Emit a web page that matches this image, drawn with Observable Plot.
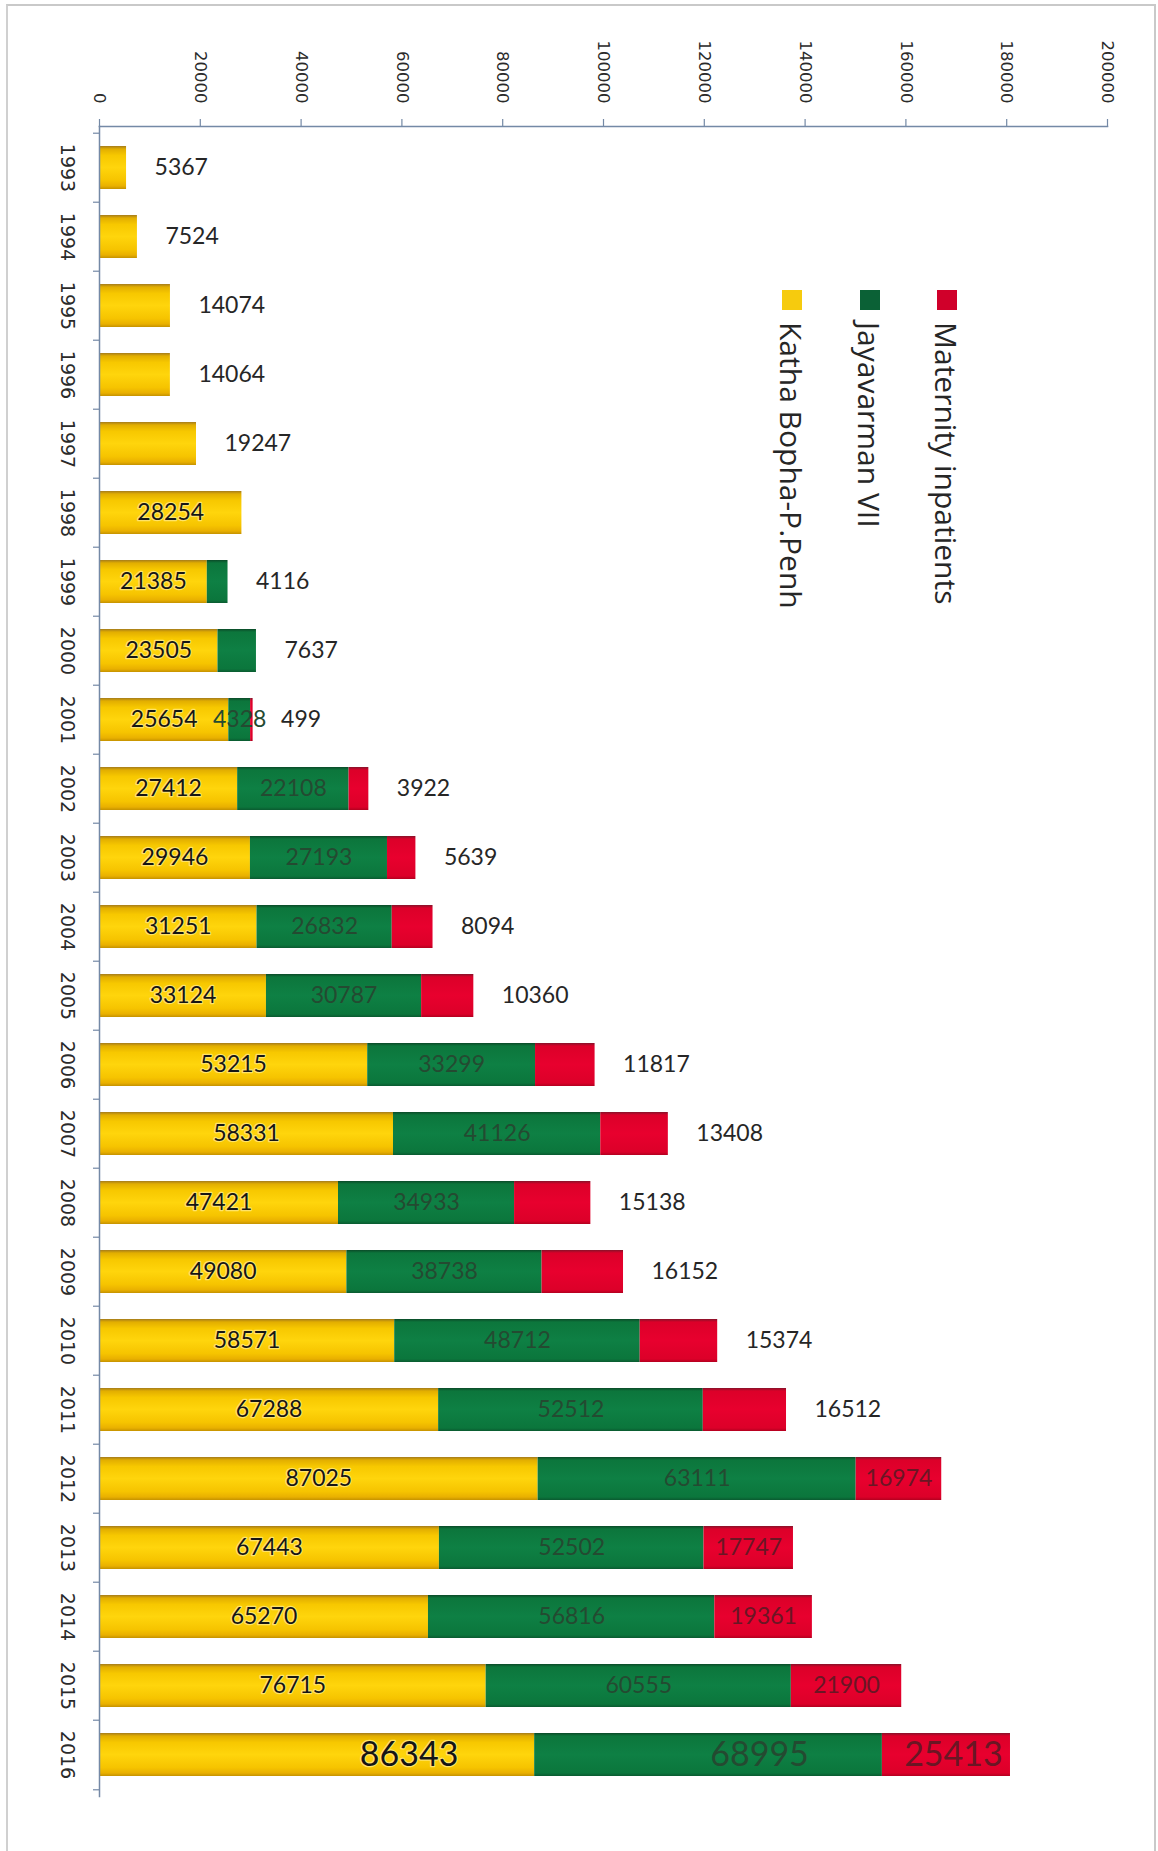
<!DOCTYPE html>
<html>
<head>
<meta charset="utf-8">
<script src="https://cdn.jsdelivr.net/npm/d3@7"></script>
<script src="https://cdn.jsdelivr.net/npm/@observablehq/plot@0.6"></script>
<style>
  html, body { margin: 0; padding: 0; background: #fff; }
  #wrap { position: relative; width: 1158px; height: 1851px; overflow: hidden; }
  #border { position: absolute; left: 6px; top: 4px; width: 1146px; height: 1900px;
            border-top: 2px solid #c9c9c9; border-left: 2px solid #d0d0d0; border-right: 2px solid #c9c9c9; }
  .leg { position: absolute; top: 290px; height: 38px; display: flex; align-items: center; gap: 12px;
         transform: rotate(90deg); transform-origin: 0 0; white-space: nowrap;
         font-family: "Open Sans", sans-serif; font-size: 30px; color: #262626; }
  .leg .sw { width: 20px; height: 20px; flex: none; }
</style>
</head>
<body>
<div id="wrap"><div id="border"></div></div>
<script>
const years = [1993,1994,1995,1996,1997,1998,1999,2000,2001,2002,2003,2004,2005,2006,2007,2008,2009,2010,2011,2012,2013,2014,2015,2016];
const katha = [5367,7524,14074,14064,19247,28254,21385,23505,25654,27412,29946,31251,33124,53215,58331,47421,49080,58571,67288,87025,67443,65270,76715,86343];
const jayavarman = [0,0,0,0,0,0,4116,7637,4328,22108,27193,26832,30787,33299,41126,34933,38738,48712,52512,63111,52502,56816,60555,68995];
const maternity = [0,0,0,0,0,0,0,0,499,3922,5639,8094,10360,11817,13408,15138,16152,15374,16512,16974,17747,19361,21900,25413];
const seriesNames = ["Katha Bopha-P.Penh", "Jayavarman VII", "Maternity inpatients"];
const xTicks = [0,20000,40000,60000,80000,100000,120000,140000,160000,180000,200000];

const seriesValues = [katha, jayavarman, maternity];
const barColors = ["#f5c800", "#0c7b3f", "#e2002b"];
const gradIds = ["gY", "gG", "gR"];
const legendColors = ["#f6cb0e", "#0b6136", "#d0002a"];
const labelColors = ["#151515", "#244a31", "#6a1624"];
const insideLastYears = new Set([1998, 2012, 2013, 2014, 2015, 2016]);
const bigYear = 2016;
const bigShift = [92, 51, 7];

// stack segments
const rows = [];
years.forEach((yr, i) => {
  let cum = 0;
  const nz = seriesValues.map(v => v[i] > 0);
  const lastIdx = nz.lastIndexOf(true);
  seriesValues.forEach((vals, s) => {
    const v = vals[i];
    if (v > 0) {
      rows.push({year: yr, s, value: v, x1: cum, x2: cum + v,
                 outside: s === lastIdx && !insideLastYears.has(yr)});
    }
    cum += v;
  });
});

const W = 1158, H = 1851, mT = 126, mB = 55, mL = 99, mR = 51;
const padIn = 0.38, padOut = 0.19;
const step = (H - mT - mB) / (years.length - padIn + 2 * padOut);
const axisColor = "#7489a6";

const marks = [];
// bars
seriesValues.forEach((_, s) => {
  marks.push(Plot.barX(rows.filter(r => r.s === s), {x1: "x1", x2: "x2", y: "year", fill: barColors[s]}));
});
// inside labels
seriesValues.forEach((_, s) => {
  marks.push(Plot.text(rows.filter(r => r.s === s && !r.outside && r.year !== bigYear), {
    x: r => (r.x1 + r.x2) / 2, y: "year", text: r => String(r.value),
    fill: labelColors[s], fontSize: 23, fontFamily: "Lato, sans-serif",
    stroke: s === 0 ? "#ffe36a" : "none", strokeWidth: s === 0 ? 2.5 : 0
  }));
  marks.push(Plot.text(rows.filter(r => r.s === s && r.year === bigYear), {
    x: r => (r.x1 + r.x2) / 2, y: "year", text: r => String(r.value), dx: bigShift[s],
    fill: labelColors[s], fontSize: 34, fontFamily: "Lato, sans-serif",
    stroke: s === 0 ? "#ffe36a" : "none", strokeWidth: s === 0 ? 2.5 : 0
  }));
});
// outside labels
marks.push(Plot.text(rows.filter(r => r.outside), {
  x: "x2", y: "year", text: r => String(r.value), dx: 28, textAnchor: "start",
  fill: "#262626", fontSize: 23, fontFamily: "Lato, sans-serif"
}));
// axes
marks.push(Plot.frame({anchor: "top", stroke: axisColor, strokeWidth: 1.5}));
marks.push(Plot.frame({anchor: "left", stroke: axisColor, strokeWidth: 1.5}));
marks.push(Plot.axisX({anchor: "top", ticks: xTicks, tickSize: 8, tickFormat: () => "", label: null, stroke: axisColor, strokeWidth: 1.2}));
marks.push(Plot.text(xTicks, {x: d => d, text: d => String(d), frameAnchor: "top", dy: -23, rotate: 90,
  textAnchor: "end", lineAnchor: "middle", fontSize: 16.5, fontFamily: "DejaVu Sans, sans-serif", fill: "#2a2a2a"}));
marks.push(Plot.axisY({anchor: "left", ticks: years, tickSize: 6, tickFormat: () => "", label: null, dy: -step / 2, stroke: axisColor, strokeWidth: 1.2}));
marks.push(Plot.axisY({anchor: "left", ticks: [years[years.length - 1]], tickSize: 6, tickFormat: () => "", label: null, dy: step / 2, stroke: axisColor, strokeWidth: 1.2}));
marks.push(Plot.text(years, {y: d => d, text: d => String(d), frameAnchor: "left", dx: -32, rotate: 90,
  textAnchor: "middle", lineAnchor: "middle", fontSize: 19, fontFamily: "DejaVu Sans, sans-serif", fill: "#2a2a2a"}));

const chart = Plot.plot({
  width: W, height: H, marginTop: mT, marginBottom: mB, marginLeft: mL, marginRight: mR,
  x: {domain: [0, 200000], axis: null, label: null},
  y: {type: "band", domain: years, paddingInner: padIn, paddingOuter: padOut, axis: null, label: null},
  style: {background: "transparent", overflow: "visible"},
  marks
});

// gradients
const ns = "http://www.w3.org/2000/svg";
const defs = document.createElementNS(ns, "defs");
const gradStops = [
  [["0", "#a57c1c"], ["0.07", "#e2ae00"], ["0.22", "#f7c800"], ["0.5", "#ffd50c"], ["0.8", "#f6c400"], ["0.93", "#e9b000"], ["1", "#c59200"]],
  [["0", "#0b4a28"], ["0.07", "#0c763c"], ["0.5", "#0e8044"], ["0.93", "#0b763c"], ["1", "#0a5a30"]],
  [["0", "#86132a"], ["0.07", "#dc0029"], ["0.5", "#e8002e"], ["0.93", "#dc0029"], ["1", "#b3001f"]]
];
gradStops.forEach((stops, s) => {
  const lg = document.createElementNS(ns, "linearGradient");
  lg.setAttribute("id", gradIds[s]);
  lg.setAttribute("x1", "0"); lg.setAttribute("y1", "0"); lg.setAttribute("x2", "0"); lg.setAttribute("y2", "1");
  stops.forEach(([o, c]) => {
    const st = document.createElementNS(ns, "stop");
    st.setAttribute("offset", o); st.setAttribute("stop-color", c);
    lg.appendChild(st);
  });
  defs.appendChild(lg);
});
chart.insertBefore(defs, chart.firstChild);
chart.querySelectorAll("g[aria-label='bar']").forEach(g => {
  const f = (g.getAttribute("fill") || "").toLowerCase();
  const s = barColors.indexOf(f);
  if (s >= 0) g.setAttribute("fill", `url(#${gradIds[s]})`);
});

const wrap = document.getElementById("wrap");
chart.style.position = "absolute";
chart.style.left = "0"; chart.style.top = "0";
wrap.appendChild(chart);

// legend (rotated, inside plot area)
const legH = 38;
[2, 1, 0].forEach((s, k) => {
  const cx = 947 - k * 77.5;
  const d = document.createElement("div");
  d.className = "leg";
  d.style.left = (cx + legH / 2) + "px";
  d.innerHTML = `<span class="sw" style="background:${legendColors[s]}"></span><span>${seriesNames[s]}</span>`;
  wrap.appendChild(d);
});
</script>
</body>
</html>
